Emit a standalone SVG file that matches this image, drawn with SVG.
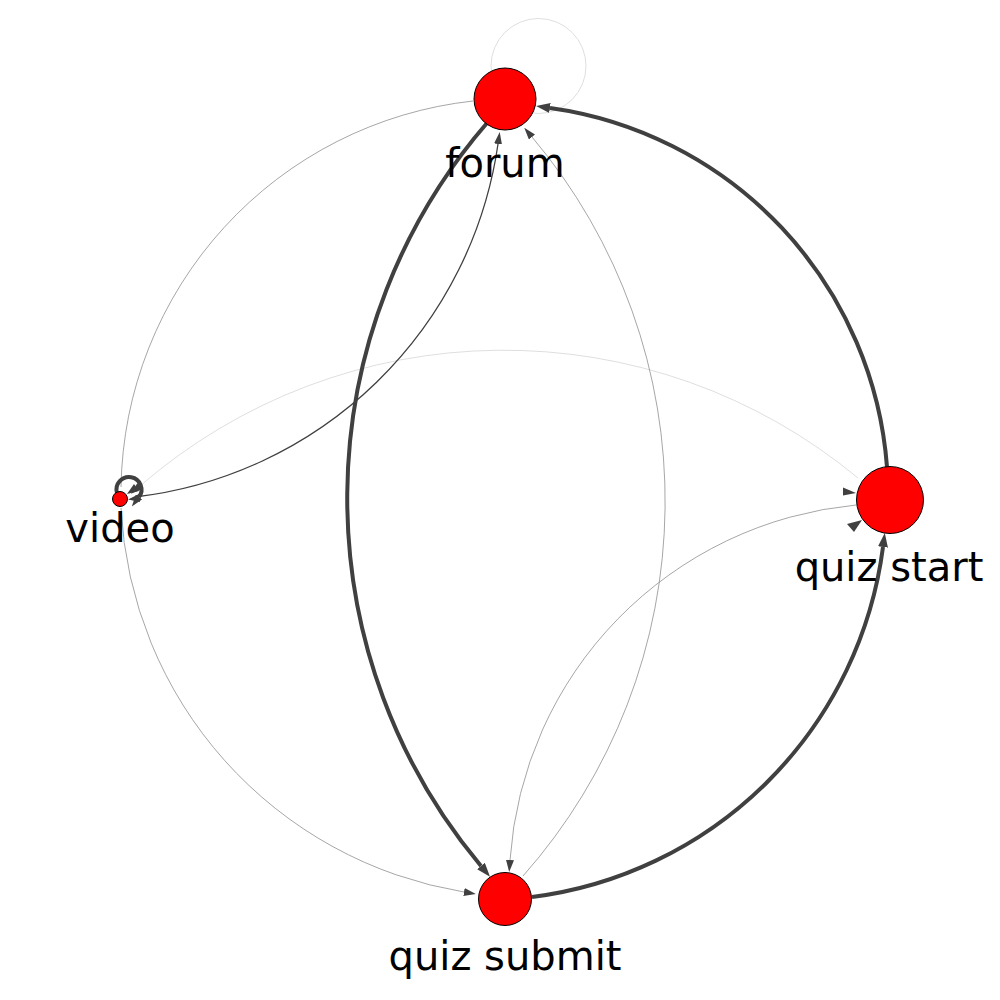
<svg xmlns="http://www.w3.org/2000/svg" width="1000" height="1000" viewBox="0 0 1000 1000">
<style>
.thick{fill:none;stroke:#404040;stroke-width:4}
.mid{fill:none;stroke:#404040;stroke-width:1.3}
.thin{fill:none;stroke:#8f8f8f;stroke-width:0.8}
.light{fill:none;stroke:#d6d6d6;stroke-width:0.8}
.node{fill:#ff0000;stroke:#000;stroke-width:1}
.lbl{font-family:"DejaVu Sans","Liberation Sans",sans-serif;font-size:40px;fill:#000;text-anchor:middle}
.head{fill:#404040}
</style>
<defs>
<marker id="ah" markerUnits="userSpaceOnUse" markerWidth="14" markerHeight="10" viewBox="0 0 14 10" refX="0" refY="5" orient="auto"><path d="M0,0 L14,5 L0,10 z" fill="#404040"/></marker>
<marker id="as" markerUnits="userSpaceOnUse" markerWidth="12" markerHeight="8" viewBox="0 0 12 8" refX="0" refY="4" orient="auto"><path d="M0,0 L12,4 L0,8 z" fill="#404040"/></marker>
</defs>
<rect width="1000" height="1000" fill="#fff"/>
<g id="connectors">
<circle class="light" cx="538.5" cy="66" r="47.5"/>
<path class="light" d="M858,478 A555,555 0 0 0 140,486" marker-end="url(#as)"/>
<path class="thin" d="M473,101 A395,395 0 0 0 121,487"/>
<path class="thin" d="M121,508 A410,410 0 0 0 464,892" marker-end="url(#as)"/>
<path class="thin" d="M523,876 A565,565 0 0 0 532,137" marker-end="url(#as)"/>
<path class="thin" d="M856,505 A383,383 0 0 0 510,860" marker-end="url(#as)"/>
<path class="mid" d="M135,497 A415,415 0 0 0 498,144" marker-end="url(#as)"/>
<path class="thick" d="M887,467 A392,392 0 0 0 550,108" marker-end="url(#ah)"/>
<path class="thick" d="M487,123 A573,573 0 0 0 481,866" marker-end="url(#ah)"/>
<path class="thick" d="M532,897 A405,405 0 0 0 883,547" marker-end="url(#ah)"/>
<path d="M117,493 A12.5,12.5 0 1 1 139,497" fill="none" stroke="#404040" stroke-width="4" marker-end="url(#as)"/>
<polygon class="head" points="139,494 140,502 128,499.5"/>
<polygon class="head" points="134,484 139,491 127,494"/>
<polygon class="head" points="843,487.5 843,495.5 856,493"/>
<polygon class="head" points="847,524 854,532 862,520"/>
</g>
<g id="node-forum">
<circle class="node" cx="505" cy="99" r="31"/>
<text class="lbl" x="505" y="177">forum</text>
</g>
<g id="node-video">
<circle class="node" cx="120" cy="499" r="7.5"/>
<text class="lbl" x="120" y="542">video</text>
</g>
<g id="node-quiz-start">
<circle class="node" cx="890" cy="500" r="33.5"/>
<text class="lbl" x="889" y="581">quiz start</text>
</g>
<g id="node-quiz-submit">
<circle class="node" cx="505" cy="899" r="26.5"/>
<text class="lbl" x="505" y="970">quiz submit</text>
</g>
</svg>
